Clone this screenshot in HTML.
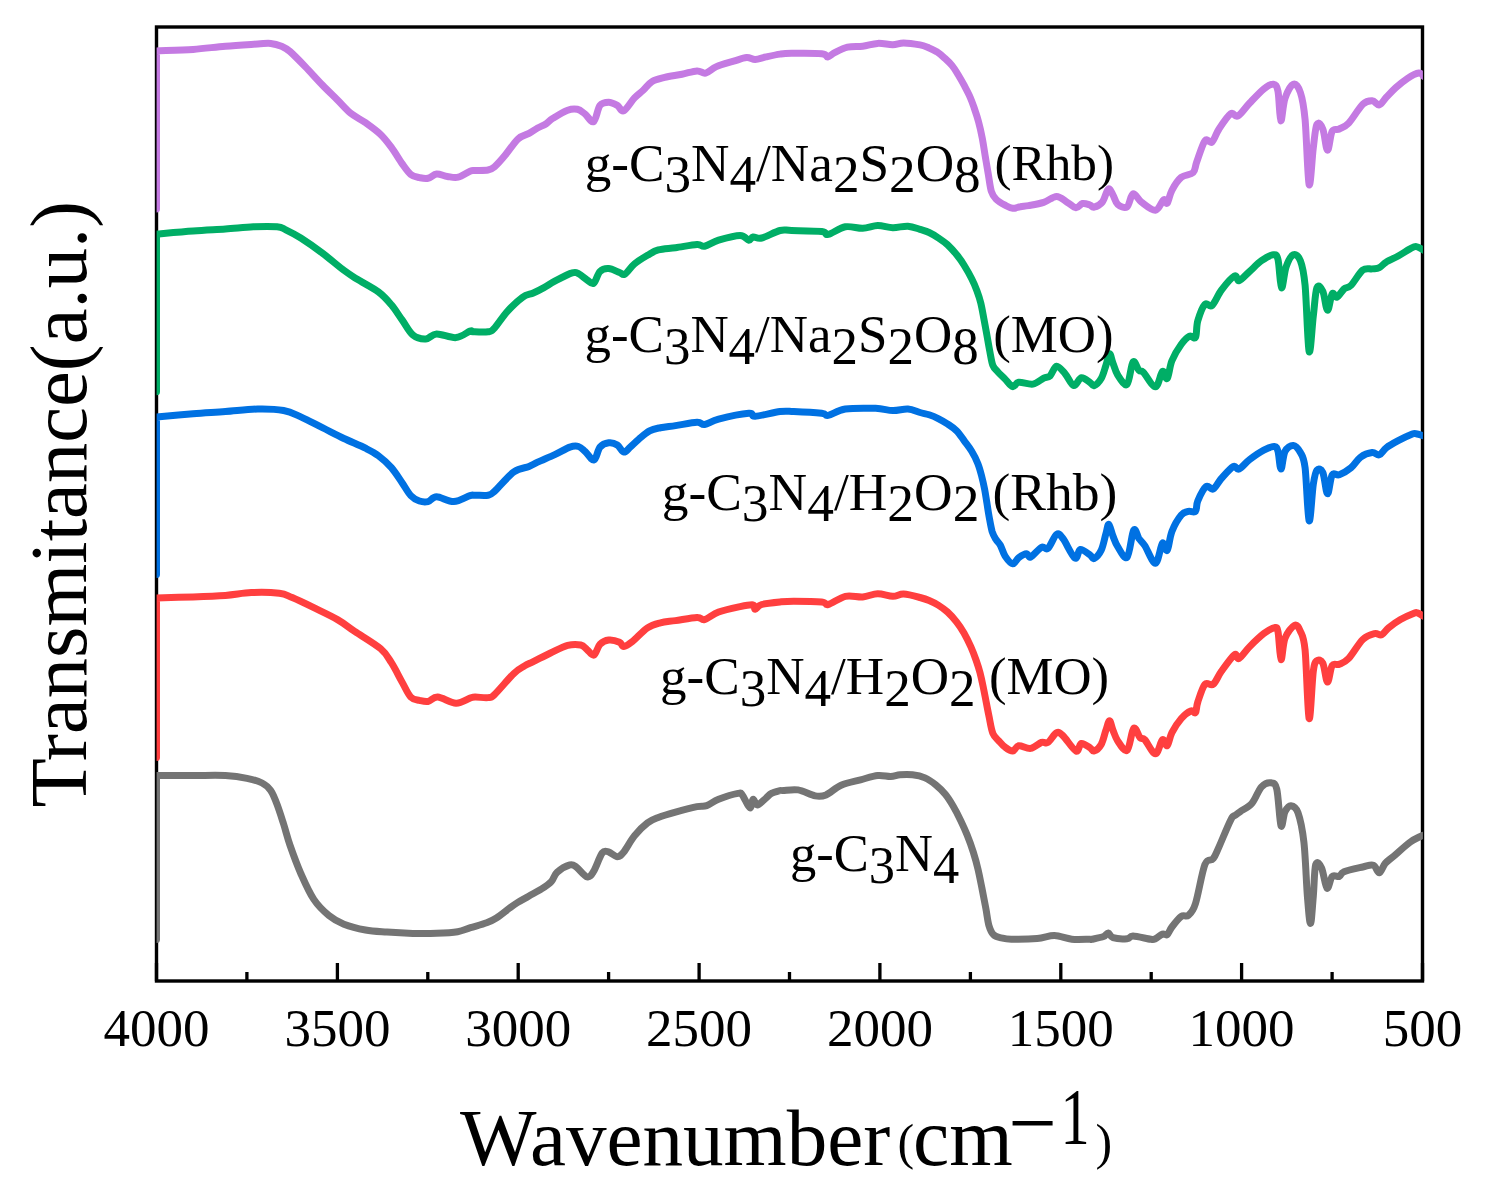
<!DOCTYPE html>
<html><head><meta charset="utf-8"><style>
html,body{margin:0;padding:0;background:#fff;width:1485px;height:1185px;overflow:hidden}
svg{display:block}
text{font-family:"Liberation Serif",serif;fill:#000}
</style></head><body>
<svg width="1485" height="1185" viewBox="0 0 1485 1185">
<rect width="1485" height="1185" fill="#fff"/>
<rect x="156.5" y="27" width="1266" height="954" fill="none" stroke="#000" stroke-width="3.4"/>
<defs><clipPath id="pc"><rect x="156.6" y="0" width="1266.3" height="1185"/></clipPath></defs>
<g clip-path="url(#pc)">
<path d="M156.5,939.6 L156.5,775.5 C162.6,775.5 181.6,775.5 193.1,775.5 C204.6,775.5 216.4,775.0 225.4,775.5 C234.4,776.0 240.9,777.0 247.0,778.3 C253.1,779.5 258.2,781.0 262.1,783.0 C266.1,785.0 268.2,787.0 270.7,790.6 C273.2,794.2 275.0,799.0 277.1,804.6 C279.2,810.2 281.4,817.2 283.6,824.0 C285.8,830.8 287.2,837.2 290.1,845.5 C293.0,853.8 296.9,864.5 300.8,873.5 C304.8,882.5 309.1,892.4 313.8,899.4 C318.5,906.4 323.9,911.4 328.9,915.5 C333.9,919.6 337.8,921.8 343.9,924.2 C350.0,926.6 358.3,928.7 365.5,930.0 C372.7,931.3 379.1,931.5 387.0,932.1 C394.9,932.7 404.6,933.2 412.9,933.4 C421.2,933.6 429.2,933.6 436.6,933.3 C444.1,933.0 452.0,932.6 457.6,931.7 C463.2,930.8 465.6,929.2 470.5,927.7 C475.4,926.2 482.4,924.4 486.7,922.8 C491.0,921.2 492.6,920.4 496.4,918.0 C500.2,915.6 505.8,910.9 509.3,908.3 C512.8,905.7 514.2,904.6 517.4,902.6 C520.6,900.6 524.7,898.5 528.7,896.2 C532.7,893.9 537.8,891.3 541.6,888.9 C545.4,886.5 548.7,884.4 551.3,881.6 C553.9,878.9 553.9,875.2 557.0,872.4 C560.1,869.6 566.7,865.8 569.9,864.9 C573.1,864.0 573.5,865.1 576.4,867.1 C579.3,869.1 584.2,876.1 587.1,876.8 C590.0,877.5 591.1,875.4 593.6,871.4 C596.1,867.4 599.7,856.2 602.2,853.0 C604.7,849.8 606.2,851.4 608.7,852.0 C611.2,852.6 614.8,856.7 617.3,856.7 C619.8,856.7 620.9,855.5 623.8,852.0 C626.7,848.5 630.5,840.6 634.5,835.8 C638.5,830.9 643.5,825.9 647.5,822.9 C651.5,819.9 653.6,819.3 658.3,817.5 C663.0,815.7 669.0,813.9 675.5,812.1 C682.0,810.3 691.8,807.8 697.0,806.7 C702.2,805.6 703.1,806.9 706.7,805.6 C710.3,804.4 713.4,801.2 718.6,799.2 C723.8,797.2 734.0,794.1 738.0,793.4 C742.0,792.7 740.3,792.5 742.3,794.9 C744.3,797.3 748.0,807.1 749.8,807.8 C751.6,808.5 751.8,799.7 753.1,799.2 C754.4,798.7 755.2,805.2 757.4,805.0 C759.5,804.8 763.7,800.0 766.0,798.1 C768.3,796.2 769.1,794.6 771.4,793.4 C773.7,792.1 778.1,791.1 780.0,790.6 C781.9,790.1 779.9,790.7 782.9,790.6 C785.9,790.5 792.6,789.0 798.0,789.9 C803.4,790.8 810.6,795.1 815.3,795.9 C820.0,796.7 821.7,796.7 826.0,794.9 C830.3,793.1 835.4,787.7 841.1,785.2 C846.9,782.7 854.4,781.4 860.5,779.8 C866.6,778.2 872.7,776.0 877.7,775.5 C882.7,775.0 887.0,776.6 890.7,776.5 C894.4,776.4 896.4,775.1 900.0,774.8 C903.6,774.5 908.3,774.3 912.5,774.8 C916.7,775.3 921.1,776.2 925.0,777.9 C928.9,779.6 932.5,782.3 935.9,785.0 C939.3,787.7 942.4,790.8 945.3,794.3 C948.2,797.8 950.5,801.6 953.1,806.0 C955.7,810.4 958.6,816.1 960.9,820.9 C963.2,825.7 965.0,829.7 967.1,834.9 C969.2,840.1 971.5,846.4 973.3,852.1 C975.1,857.8 976.6,863.2 978.0,869.2 C979.4,875.2 980.6,881.5 981.9,888.0 C983.2,894.5 984.6,902.0 985.8,908.2 C987.0,914.4 987.6,921.0 988.9,925.4 C990.2,929.8 991.5,932.7 993.6,934.8 C995.7,936.9 998.5,937.2 1001.4,937.9 C1004.3,938.6 1005.3,939.1 1011.3,939.2 C1017.3,939.3 1030.0,939.2 1037.2,938.6 C1044.4,938.0 1048.7,935.5 1054.4,935.6 C1060.2,935.7 1065.8,938.6 1071.7,939.2 C1077.6,939.8 1086.7,939.2 1090.0,939.2 C1093.3,939.2 1089.5,939.8 1091.8,939.3 C1094.1,938.8 1100.8,937.5 1103.6,936.5 C1106.3,935.5 1106.7,932.8 1108.3,933.0 C1109.9,933.2 1109.9,936.7 1113.0,937.7 C1116.1,938.7 1123.8,939.1 1127.1,938.8 C1130.4,938.5 1129.1,935.9 1133.0,936.0 C1136.9,936.1 1147.0,938.8 1150.7,939.3 C1154.4,939.8 1153.4,939.7 1155.4,938.8 C1157.4,937.9 1160.5,934.8 1162.5,934.1 C1164.5,933.4 1165.6,935.8 1167.2,934.6 C1168.8,933.4 1169.6,930.0 1171.9,927.0 C1174.2,924.0 1178.5,918.4 1181.3,916.4 C1184.0,914.4 1186.0,917.4 1188.4,915.3 C1190.8,913.1 1192.8,912.0 1195.5,903.5 C1198.2,895.0 1202.0,872.1 1204.9,864.6 C1207.9,857.1 1210.9,861.7 1213.2,858.7 C1215.5,855.8 1216.1,853.4 1219.0,846.9 C1221.9,840.4 1228.0,825.1 1230.8,819.8 C1233.5,814.5 1233.9,816.5 1235.5,815.1 C1237.1,813.7 1237.5,813.6 1240.3,811.6 C1243.0,809.6 1248.5,807.4 1252.0,803.3 C1255.5,799.2 1258.3,790.2 1261.5,786.8 C1264.7,783.4 1268.4,782.4 1270.9,782.8 C1273.5,783.2 1275.1,782.1 1276.8,789.2 C1278.5,796.4 1279.6,822.0 1281.0,825.7 C1282.4,829.4 1283.3,814.9 1285.0,811.6 C1286.7,808.3 1288.7,805.5 1290.9,805.7 C1293.1,805.9 1295.8,806.6 1298.0,812.7 C1300.2,818.8 1302.3,828.2 1303.9,842.2 C1305.5,856.2 1306.3,882.9 1307.4,896.4 C1308.5,909.9 1309.5,923.5 1310.5,923.5 C1311.5,923.5 1312.4,906.2 1313.3,896.4 C1314.2,886.6 1314.3,869.3 1315.7,864.6 C1317.1,859.9 1319.7,864.2 1321.6,868.1 C1323.5,872.0 1325.2,886.8 1327.0,888.2 C1328.8,889.6 1330.2,878.4 1332.2,876.4 C1334.2,874.4 1337.3,877.2 1339.3,876.4 C1341.3,875.6 1340.1,873.3 1344.0,871.7 C1347.9,870.1 1357.9,868.1 1362.8,867.0 C1367.7,865.9 1370.7,864.3 1373.4,865.3 C1376.2,866.3 1377.3,873.1 1379.3,872.8 C1381.3,872.5 1382.8,866.1 1385.2,863.4 C1387.6,860.6 1389.4,859.8 1393.5,856.3 C1397.6,852.8 1405.5,845.5 1410.0,842.2 C1414.5,838.9 1418.3,837.5 1420.6,836.3 C1422.9,835.1 1423.4,835.2 1424.0,835.0" stroke="#747474" stroke-width="7.0" fill="none" stroke-linejoin="round" stroke-linecap="round"/>
<path d="M156.5,757.4 L156.5,598.0 C162.6,597.8 181.6,597.3 193.1,596.9 C204.6,596.5 215.7,596.1 225.4,595.4 C235.1,594.7 242.3,593.0 251.3,592.6 C260.3,592.2 272.5,592.5 279.3,593.3 C286.1,594.1 286.4,595.2 292.2,597.6 C297.9,600.0 306.2,604.0 313.8,607.7 C321.4,611.4 330.7,615.7 337.5,619.6 C344.3,623.5 347.5,626.5 354.7,631.4 C361.9,636.2 374.5,643.5 380.6,648.7 C386.7,653.9 387.8,657.1 391.4,662.7 C395.0,668.3 398.9,676.4 402.1,682.1 C405.3,687.8 407.9,694.1 410.8,697.1 C413.7,700.1 416.5,699.7 419.4,700.4 C422.3,701.1 424.9,702.0 428.0,701.5 C431.1,701.0 433.0,696.8 437.7,697.1 C442.4,697.4 450.6,703.0 456.0,703.2 C461.4,703.4 466.8,699.2 470.0,698.2 C473.2,697.2 472.1,697.2 475.1,697.1 C478.1,697.0 484.8,698.0 488.0,697.6 C491.2,697.2 490.2,698.6 494.5,694.6 C498.8,690.6 508.9,678.2 513.9,673.4 C518.9,668.6 521.4,667.9 524.6,665.9 C527.8,663.9 529.0,663.8 533.3,661.6 C537.6,659.5 544.8,655.7 550.5,653.0 C556.2,650.3 562.7,646.7 567.7,645.4 C572.7,644.1 577.5,644.3 580.7,645.0 C583.9,645.7 584.9,648.0 587.1,649.7 C589.3,651.4 591.9,656.0 594.0,655.1 C596.1,654.2 597.5,646.8 600.0,644.3 C602.5,641.8 605.5,640.4 608.7,640.0 C612.0,639.6 617.0,641.1 619.5,642.2 C622.0,643.3 621.6,646.6 623.8,646.5 C625.9,646.4 628.4,644.6 632.4,641.5 C636.4,638.4 642.8,630.9 647.5,627.8 C652.2,624.7 655.7,624.0 660.4,622.8 C665.1,621.6 669.4,621.5 675.5,620.6 C681.6,619.7 692.1,617.6 697.0,617.4 C701.9,617.2 701.0,620.5 704.6,619.6 C708.2,618.7 712.7,614.2 718.6,612.0 C724.5,609.8 734.4,607.8 740.1,606.6 C745.9,605.4 750.6,604.5 753.1,604.9 C755.6,605.3 753.8,609.3 755.2,609.2 C756.6,609.1 757.6,605.7 761.7,604.5 C765.8,603.3 774.7,602.4 780.0,601.9 C785.3,601.4 786.8,601.2 793.7,601.2 C800.7,601.2 816.0,601.4 821.7,601.9 C827.5,602.4 824.2,605.4 828.2,604.5 C832.2,603.6 839.6,597.6 845.4,596.3 C851.1,595.0 857.3,597.3 862.7,596.9 C868.1,596.5 872.7,593.8 877.7,593.7 C882.7,593.6 888.5,596.2 892.8,596.3 C897.1,596.4 899.1,593.9 903.6,594.1 C908.1,594.3 915.8,596.4 920.0,597.5 C924.2,598.6 926.1,599.2 929.1,600.5 C932.1,601.8 935.2,603.2 938.2,605.1 C941.2,607.0 944.4,609.1 947.4,611.9 C950.4,614.7 953.7,618.2 956.5,621.8 C959.3,625.3 961.7,629.0 964.1,633.2 C966.5,637.4 968.9,642.4 970.9,646.9 C972.9,651.4 974.7,656.2 976.2,660.5 C977.7,664.8 978.9,668.4 980.0,672.7 C981.1,677.0 982.1,681.6 983.1,686.4 C984.1,691.2 985.1,696.5 986.1,701.6 C987.1,706.7 988.0,711.5 989.1,716.8 C990.2,722.1 991.2,729.5 992.9,733.5 C994.5,737.5 997.0,738.8 999.0,741.1 C1001.0,743.4 1002.8,745.6 1005.1,747.2 C1007.4,748.9 1010.4,751.2 1012.7,751.0 C1015.0,750.8 1015.8,746.1 1018.8,745.7 C1021.8,745.3 1026.9,749.0 1030.7,748.4 C1034.5,747.8 1038.6,743.4 1041.5,742.4 C1044.4,741.4 1045.5,744.0 1048.0,742.4 C1050.5,740.8 1054.1,733.8 1056.6,732.7 C1059.1,731.6 1059.9,732.9 1063.1,735.9 C1066.3,738.9 1073.0,749.7 1076.0,751.0 C1079.0,752.3 1079.1,744.0 1081.4,743.5 C1083.7,743.0 1087.9,746.5 1090.0,747.8 C1092.1,749.0 1092.2,751.6 1094.1,751.0 C1096.0,750.4 1099.2,747.9 1101.2,744.4 C1103.2,740.9 1104.5,734.2 1105.9,730.3 C1107.3,726.4 1108.3,720.8 1109.5,720.8 C1110.7,720.8 1111.6,726.9 1113.0,730.3 C1114.4,733.6 1115.4,737.6 1117.7,740.9 C1120.0,744.2 1124.4,752.4 1127.1,750.3 C1129.8,748.2 1131.5,730.5 1133.7,728.4 C1135.9,726.3 1138.2,735.9 1140.1,737.8 C1141.9,739.7 1142.2,737.0 1144.8,739.7 C1147.3,742.4 1152.5,753.8 1155.4,753.8 C1158.4,753.8 1160.5,741.1 1162.5,739.7 C1164.5,738.3 1165.6,746.8 1167.2,745.6 C1168.8,744.4 1169.6,737.1 1171.9,732.6 C1174.2,728.1 1178.2,722.1 1181.3,718.5 C1184.4,714.9 1188.4,711.9 1190.8,710.9 C1193.2,709.9 1194.3,714.1 1195.5,712.6 C1196.7,711.1 1196.2,706.7 1197.8,702.0 C1199.4,697.3 1202.3,687.2 1204.9,684.3 C1207.5,681.3 1210.5,686.5 1213.2,684.3 C1216.0,682.1 1217.9,676.2 1221.4,671.3 C1224.9,666.4 1231.5,656.9 1234.4,654.8 C1237.4,652.6 1236.5,659.8 1239.1,658.4 C1241.6,657.0 1245.6,650.7 1249.7,646.6 C1253.8,642.5 1259.7,636.8 1263.8,633.6 C1267.9,630.5 1272.0,628.0 1274.4,627.7 C1276.8,627.4 1276.9,626.4 1278.0,631.7 C1279.1,637.0 1279.8,658.5 1281.0,659.6 C1282.2,660.7 1282.8,644.0 1285.0,638.3 C1287.2,632.6 1291.9,626.6 1294.5,625.4 C1297.1,624.2 1298.6,627.2 1300.4,631.3 C1302.2,635.4 1303.6,635.6 1305.1,650.1 C1306.5,664.6 1307.7,715.0 1309.1,718.5 C1310.5,722.0 1312.0,680.9 1313.3,671.3 C1314.6,661.7 1315.3,662.1 1316.9,660.7 C1318.5,659.3 1321.0,659.6 1322.8,663.1 C1324.6,666.6 1325.9,681.6 1327.5,682.0 C1329.1,682.4 1330.2,668.5 1332.2,665.5 C1334.2,662.5 1336.5,665.5 1339.3,664.3 C1342.0,663.1 1344.8,662.5 1348.7,658.4 C1352.6,654.3 1358.5,643.6 1362.8,639.5 C1367.1,635.4 1371.4,634.4 1374.6,633.6 C1377.8,632.8 1379.3,635.8 1381.7,634.8 C1384.1,633.8 1385.6,630.2 1388.7,627.7 C1391.8,625.2 1396.3,621.9 1400.5,619.5 C1404.7,617.1 1411.2,614.3 1414.0,613.2 C1416.8,612.1 1415.8,612.4 1417.5,612.9 C1419.2,613.4 1422.9,615.9 1424.0,616.5" stroke="#FF3F3F" stroke-width="7.0" fill="none" stroke-linejoin="round" stroke-linecap="round"/>
<path d="M156.5,574.6 L156.5,416.9 C162.6,416.4 181.6,414.6 193.1,413.7 C204.6,412.8 214.6,412.3 225.4,411.5 C236.2,410.7 248.0,409.2 257.7,409.0 C267.4,408.8 276.4,409.2 283.6,410.5 C290.8,411.8 294.3,414.0 300.8,416.9 C307.3,419.8 315.2,424.1 322.4,427.7 C329.6,431.3 336.7,435.1 343.9,438.5 C351.1,441.9 359.8,445.3 365.5,448.2 C371.2,451.1 374.1,452.5 378.4,455.7 C382.7,458.9 387.4,463.1 391.4,467.6 C395.3,472.1 398.9,478.0 402.1,482.7 C405.3,487.4 407.9,492.6 410.8,495.6 C413.7,498.7 416.5,500.0 419.4,501.0 C422.3,502.0 425.1,502.3 428.0,501.6 C430.9,500.9 432.3,496.7 436.6,496.7 C440.9,496.7 448.2,501.8 453.8,501.6 C459.4,501.4 466.4,496.7 470.0,495.6 C473.6,494.5 472.1,495.3 475.1,495.2 C478.1,495.1 484.8,495.8 488.0,495.2 C491.2,494.6 490.2,495.2 494.5,491.3 C498.8,487.4 508.1,476.0 513.9,471.9 C519.6,467.8 525.0,468.1 529.0,466.5 C533.0,464.9 533.3,464.2 537.6,462.2 C541.9,460.2 549.4,457.1 554.8,454.6 C560.2,452.1 565.9,448.5 569.9,447.1 C573.9,445.8 576.0,445.8 578.5,446.5 C581.0,447.2 582.4,449.1 585.0,451.4 C587.6,453.6 591.5,460.7 594.0,460.0 C596.5,459.3 597.5,450.0 600.0,447.1 C602.5,444.2 605.8,443.2 608.7,442.8 C611.6,442.4 614.8,443.4 617.3,445.0 C619.8,446.6 621.6,451.8 623.8,452.1 C625.9,452.5 627.7,449.3 630.2,447.1 C632.7,444.9 635.7,441.8 638.9,439.1 C642.1,436.4 646.0,432.8 649.6,430.9 C653.2,429.0 656.1,428.6 660.4,427.7 C664.7,426.8 669.4,426.5 675.5,425.6 C681.6,424.7 692.1,422.5 697.0,422.3 C701.9,422.1 701.0,425.0 704.6,424.5 C708.2,424.0 711.2,421.0 718.6,419.1 C726.0,417.2 742.7,413.8 748.8,413.3 C754.9,412.8 750.0,416.6 755.2,416.3 C760.4,416.0 773.6,412.3 780.0,411.5 C786.4,410.7 786.8,411.2 793.7,411.5 C800.7,411.8 816.0,412.7 821.7,413.3 C827.5,413.9 824.2,416.1 828.2,415.4 C832.2,414.7 837.5,410.2 845.4,409.0 C853.3,407.8 867.7,408.1 875.6,408.3 C883.5,408.6 887.4,410.4 892.8,410.5 C898.2,410.6 903.4,408.7 907.9,409.0 C912.4,409.3 916.5,411.5 920.0,412.5 C923.5,413.5 926.1,413.8 929.1,414.8 C932.1,415.8 935.2,417.1 938.2,418.6 C941.2,420.1 944.4,421.9 947.4,423.9 C950.4,425.9 953.7,427.9 956.5,430.7 C959.3,433.5 961.6,437.2 964.1,440.6 C966.6,444.0 969.4,447.4 971.7,451.2 C974.0,455.0 976.2,459.3 977.8,463.4 C979.4,467.4 980.4,471.2 981.5,475.5 C982.6,479.8 983.7,484.6 984.6,489.2 C985.5,493.8 986.1,498.3 986.9,502.9 C987.6,507.5 988.2,511.8 989.1,516.6 C990.0,521.4 991.1,528.0 992.2,531.8 C993.4,535.6 994.6,537.1 996.0,539.4 C997.4,541.7 999.0,542.7 1000.5,545.5 C1002.0,548.3 1003.1,553.1 1005.1,556.1 C1007.1,559.1 1010.4,563.5 1012.7,563.7 C1015.0,564.0 1016.5,559.2 1018.8,557.6 C1021.1,556.0 1024.4,553.9 1026.4,553.8 C1028.4,553.7 1028.2,558.1 1030.7,557.0 C1033.2,555.9 1038.6,548.7 1041.5,547.3 C1044.4,545.9 1045.5,550.5 1048.0,548.4 C1050.5,546.2 1054.1,536.0 1056.6,534.4 C1059.1,532.8 1060.0,534.8 1063.1,538.7 C1066.1,542.7 1072.0,556.3 1074.9,558.1 C1077.8,559.9 1077.8,550.0 1080.3,549.5 C1082.8,549.0 1087.7,553.4 1090.0,554.9 C1092.3,556.4 1092.2,559.3 1094.1,558.5 C1096.0,557.7 1099.2,554.4 1101.2,550.3 C1103.2,546.2 1104.6,538.1 1105.9,533.8 C1107.2,529.5 1107.6,523.9 1108.8,524.3 C1110.0,524.7 1111.5,532.4 1113.0,536.1 C1114.5,539.8 1115.4,543.2 1117.7,546.7 C1120.0,550.2 1124.4,560.0 1127.1,557.3 C1129.8,554.5 1131.7,533.3 1133.7,530.2 C1135.7,527.1 1137.1,535.9 1138.9,538.5 C1140.8,541.1 1142.0,541.5 1144.8,545.6 C1147.5,549.7 1152.5,563.6 1155.4,563.2 C1158.4,562.8 1160.5,545.4 1162.5,543.2 C1164.5,541.1 1165.6,552.3 1167.2,550.3 C1168.8,548.3 1169.6,537.3 1171.9,531.4 C1174.2,525.5 1178.5,518.2 1181.3,514.9 C1184.0,511.6 1186.0,512.0 1188.4,511.4 C1190.8,510.8 1193.9,513.2 1195.5,511.4 C1197.1,509.6 1196.0,504.9 1197.8,500.8 C1199.6,496.7 1203.5,488.6 1206.1,486.6 C1208.7,484.6 1210.7,490.4 1213.2,489.0 C1215.8,487.6 1218.1,482.1 1221.4,478.4 C1224.7,474.7 1230.2,468.2 1233.2,466.6 C1236.2,465.0 1236.3,470.2 1239.1,469.0 C1241.8,467.8 1245.6,462.6 1249.7,459.5 C1253.8,456.4 1259.7,452.2 1263.8,450.1 C1267.9,448.0 1272.0,446.4 1274.4,446.6 C1276.8,446.8 1276.9,447.6 1278.0,451.3 C1279.1,455.0 1279.8,469.0 1281.0,469.0 C1282.2,469.0 1283.0,455.2 1285.0,451.3 C1287.0,447.4 1290.7,445.2 1293.3,445.4 C1295.9,445.6 1298.4,448.8 1300.4,452.5 C1302.4,456.2 1303.6,456.4 1305.1,467.8 C1306.5,479.2 1307.7,518.0 1309.1,520.8 C1310.5,523.5 1312.0,492.8 1313.3,484.3 C1314.6,475.9 1315.3,472.1 1316.9,470.1 C1318.5,468.1 1321.0,468.6 1322.8,472.5 C1324.6,476.4 1325.9,493.3 1327.5,493.7 C1329.1,494.1 1330.2,477.9 1332.2,474.8 C1334.2,471.7 1336.2,476.0 1339.3,474.8 C1342.4,473.6 1347.5,470.7 1351.0,467.8 C1354.5,464.9 1357.0,459.8 1360.5,457.2 C1364.0,454.6 1369.1,452.9 1372.2,452.5 C1375.3,452.1 1376.9,455.6 1379.3,454.8 C1381.7,454.0 1383.2,450.1 1386.4,447.7 C1389.6,445.3 1393.9,443.0 1398.2,440.7 C1402.5,438.4 1409.3,435.2 1412.3,434.0 C1415.3,432.8 1414.0,433.4 1416.0,433.7 C1418.0,434.0 1422.7,435.6 1424.0,436.0" stroke="#0071E2" stroke-width="7.0" fill="none" stroke-linejoin="round" stroke-linecap="round"/>
<path d="M156.5,391.8 L156.5,234.1 C162.6,233.6 181.6,231.9 193.1,231.1 C204.6,230.2 215.3,229.7 225.4,229.0 C235.5,228.3 244.8,227.2 253.4,226.8 C262.0,226.4 271.7,226.3 277.1,226.8 C282.5,227.3 281.9,227.9 285.8,229.8 C289.8,231.7 294.7,234.1 300.8,238.0 C306.9,241.9 315.2,247.7 322.4,253.1 C329.6,258.5 338.1,266.0 343.9,270.3 C349.6,274.6 351.1,275.4 356.9,279.0 C362.6,282.6 372.6,287.6 378.4,291.9 C384.1,296.2 387.4,300.1 391.4,304.8 C395.3,309.5 398.5,314.9 402.1,319.9 C405.7,324.9 408.9,331.8 412.9,335.0 C416.8,338.2 421.9,339.1 425.8,338.9 C429.8,338.7 431.6,334.1 436.6,333.9 C441.6,333.7 450.4,338.1 456.0,337.6 C461.6,337.1 467.2,332.1 470.0,331.1 C472.8,330.1 469.9,331.7 472.9,331.8 C475.9,331.9 484.4,332.4 488.0,331.8 C491.6,331.2 491.3,331.5 494.5,328.1 C497.7,324.7 502.7,316.4 507.4,311.3 C512.1,306.2 518.2,300.4 522.5,297.3 C526.8,294.2 529.7,294.6 533.3,293.0 C536.9,291.4 540.4,289.6 544.0,287.6 C547.6,285.6 550.1,283.6 554.8,281.1 C559.5,278.7 568.1,274.1 572.1,272.9 C576.1,271.6 576.0,272.4 578.5,273.6 C581.0,274.8 584.6,278.4 587.1,280.0 C589.6,281.6 591.5,284.7 593.6,283.3 C595.8,281.9 597.5,273.8 600.0,271.4 C602.5,268.9 605.5,268.4 608.7,268.6 C612.0,268.8 616.8,271.6 619.5,272.5 C622.2,273.4 622.3,275.6 624.8,274.2 C627.3,272.8 630.7,267.0 634.5,263.9 C638.3,260.8 643.5,257.6 647.5,255.3 C651.5,253.0 653.6,251.2 658.3,249.9 C663.0,248.6 669.0,248.6 675.5,247.7 C682.0,246.8 692.1,244.8 697.0,244.5 C701.9,244.2 701.0,246.9 704.6,246.2 C708.2,245.5 712.7,242.0 718.6,240.2 C724.5,238.4 735.1,235.4 740.1,235.4 C745.1,235.4 746.6,239.9 748.8,240.2 C751.0,240.4 751.0,237.3 753.1,236.9 C755.2,236.5 757.2,239.1 761.7,238.0 C766.2,236.9 775.0,231.8 780.0,230.5 C785.0,229.2 784.5,230.3 791.5,230.5 C798.5,230.7 815.6,230.8 821.7,231.5 C827.8,232.2 824.2,235.2 828.2,234.4 C832.2,233.6 839.6,227.8 845.4,226.8 C851.1,225.8 857.3,228.5 862.7,228.3 C868.1,228.1 872.7,225.6 877.7,225.5 C882.7,225.4 887.8,227.6 892.8,227.7 C897.8,227.8 903.4,225.9 907.9,226.2 C912.4,226.5 916.5,228.3 920.0,229.4 C923.5,230.5 926.1,231.1 929.1,232.5 C932.1,233.9 935.2,235.8 938.2,237.8 C941.2,239.8 944.4,241.8 947.4,244.6 C950.4,247.4 953.7,251.1 956.5,254.5 C959.3,257.9 961.6,261.1 964.1,265.2 C966.6,269.2 969.6,274.5 971.7,278.8 C973.9,283.1 975.5,286.9 977.0,291.0 C978.5,295.1 979.7,298.6 980.8,303.1 C981.9,307.7 982.8,313.0 983.8,318.3 C984.8,323.6 985.9,329.5 986.9,335.1 C987.9,340.7 988.9,346.7 989.9,351.8 C990.9,356.9 991.6,362.2 992.9,365.5 C994.2,368.8 995.5,369.2 997.5,371.5 C999.5,373.8 1002.6,376.6 1005.1,379.1 C1007.6,381.6 1010.4,386.2 1012.7,386.7 C1015.0,387.2 1015.4,382.6 1018.8,382.2 C1022.2,381.8 1028.8,384.8 1032.9,384.1 C1037.1,383.4 1040.8,379.5 1043.7,378.1 C1046.6,376.7 1047.9,377.9 1050.1,375.9 C1052.2,373.9 1054.1,366.5 1056.6,366.2 C1059.1,365.9 1062.3,370.6 1065.2,373.8 C1068.1,377.0 1071.1,385.0 1073.8,385.6 C1076.5,386.2 1078.7,378.2 1081.4,377.7 C1084.1,377.2 1087.9,381.1 1090.0,382.4 C1092.1,383.7 1092.2,386.2 1094.1,385.6 C1096.0,385.0 1099.2,381.9 1101.2,378.5 C1103.2,375.1 1104.5,369.6 1105.9,365.5 C1107.3,361.4 1108.3,354.2 1109.5,353.8 C1110.7,353.4 1111.6,359.7 1113.0,363.2 C1114.4,366.7 1115.4,371.5 1117.7,375.0 C1120.0,378.5 1124.5,386.6 1127.1,384.4 C1129.6,382.2 1131.0,364.4 1133.0,362.0 C1135.0,359.6 1137.1,368.5 1138.9,370.3 C1140.7,372.1 1140.8,369.9 1143.6,372.6 C1146.3,375.4 1152.2,387.0 1155.4,386.8 C1158.6,386.6 1160.5,372.8 1162.5,371.4 C1164.5,370.0 1165.6,380.3 1167.2,378.5 C1168.8,376.7 1169.6,366.5 1171.9,360.8 C1174.2,355.1 1178.3,348.4 1181.3,344.3 C1184.2,340.2 1187.2,337.3 1189.6,336.1 C1192.0,334.9 1194.1,339.9 1195.5,337.3 C1196.9,334.8 1196.2,326.3 1197.8,320.8 C1199.4,315.3 1202.5,306.9 1204.9,304.3 C1207.3,301.8 1209.2,307.9 1212.0,305.5 C1214.8,303.1 1217.7,295.0 1221.4,290.1 C1225.1,285.2 1231.5,277.6 1234.4,276.0 C1237.4,274.4 1236.5,281.5 1239.1,280.7 C1241.6,279.9 1246.0,274.6 1249.7,271.3 C1253.4,268.0 1257.6,263.4 1261.5,260.7 C1265.4,257.9 1270.5,255.0 1273.3,254.8 C1276.0,254.6 1276.6,254.0 1278.0,259.5 C1279.4,265.0 1280.1,286.6 1281.5,287.8 C1282.9,289.0 1284.2,272.1 1286.2,266.6 C1288.2,261.1 1290.9,255.8 1293.3,254.8 C1295.7,253.8 1298.4,255.6 1300.4,260.7 C1302.4,265.8 1303.6,270.3 1305.1,285.4 C1306.5,300.5 1307.7,346.3 1309.1,351.4 C1310.5,356.5 1312.0,326.7 1313.3,316.1 C1314.6,305.5 1315.3,291.9 1316.9,287.8 C1318.5,283.7 1321.0,287.6 1322.8,291.3 C1324.6,295.0 1325.9,309.8 1327.5,310.2 C1329.1,310.6 1330.6,295.9 1332.2,293.7 C1333.8,291.5 1334.9,298.0 1336.9,297.2 C1338.9,296.4 1341.7,291.0 1344.0,289.0 C1346.3,287.0 1347.9,288.5 1351.0,285.4 C1354.1,282.2 1359.3,272.9 1362.8,270.1 C1366.3,267.4 1369.5,269.3 1372.2,268.9 C1375.0,268.5 1376.9,268.9 1379.3,267.7 C1381.7,266.5 1383.2,263.8 1386.4,261.9 C1389.6,259.9 1394.3,258.2 1398.2,256.0 C1402.1,253.8 1407.0,250.5 1410.0,248.9 C1413.0,247.3 1414.1,246.3 1416.4,246.6 C1418.7,246.9 1422.7,249.8 1424.0,250.5" stroke="#00AE66" stroke-width="7.0" fill="none" stroke-linejoin="round" stroke-linecap="round"/>
<path d="M156.5,208.9 L156.5,50.9 C162.6,50.6 181.6,50.2 193.1,49.4 C204.6,48.6 214.6,47.1 225.4,46.2 C236.2,45.3 250.1,44.5 257.7,44.0 C265.2,43.5 266.7,43.0 270.7,43.4 C274.7,43.8 278.3,44.9 281.5,46.2 C284.7,47.6 286.1,48.1 290.0,51.5 C293.9,54.9 299.8,61.0 305.2,66.6 C310.6,72.2 317.0,79.4 322.4,85.0 C327.8,90.6 332.8,95.3 337.5,100.0 C342.2,104.7 345.7,109.2 350.4,113.0 C355.1,116.8 360.5,119.1 365.5,122.7 C370.5,126.3 376.3,130.4 380.6,134.5 C384.9,138.6 387.8,142.6 391.4,147.4 C395.0,152.2 398.9,159.1 402.1,163.6 C405.3,168.1 407.9,172.1 410.8,174.4 C413.7,176.7 416.5,176.9 419.4,177.6 C422.3,178.2 425.1,178.9 428.0,178.3 C430.9,177.7 433.4,174.3 436.6,174.0 C439.8,173.7 443.8,176.0 447.4,176.5 C451.0,177.0 454.4,178.1 458.2,177.2 C462.0,176.3 467.2,172.3 470.0,171.2 C472.8,170.1 472.1,170.7 475.1,170.5 C478.1,170.3 484.8,170.6 488.0,170.0 C491.2,169.4 491.6,169.3 494.5,166.8 C497.4,164.3 501.4,159.7 505.3,155.0 C509.2,150.3 514.2,142.4 518.2,138.8 C522.2,135.2 525.8,135.2 529.0,133.4 C532.2,131.6 534.7,129.6 537.6,128.0 C540.5,126.4 543.7,125.3 546.2,123.7 C548.7,122.1 549.1,120.7 552.7,118.4 C556.3,116.2 563.6,111.7 567.7,110.2 C571.8,108.7 574.5,108.7 577.4,109.3 C580.3,109.9 582.3,112.0 585.0,114.0 C587.7,116.0 591.1,123.0 593.6,121.6 C596.1,120.2 597.5,108.6 600.0,105.4 C602.5,102.2 605.8,102.2 608.7,102.2 C611.6,102.2 614.8,104.0 617.3,105.4 C619.8,106.8 620.9,112.0 623.8,110.8 C626.7,109.5 631.3,101.3 634.5,97.9 C637.7,94.5 640.3,93.0 643.2,90.3 C646.1,87.6 648.2,83.8 651.8,81.7 C655.4,79.6 659.7,78.7 664.7,77.4 C669.7,76.2 676.6,75.3 682.0,74.2 C687.4,73.1 693.0,71.1 697.0,70.9 C701.0,70.7 702.5,73.8 705.7,73.1 C708.9,72.4 711.7,68.6 716.4,66.6 C721.1,64.6 728.7,62.7 733.7,61.2 C738.7,59.7 743.0,57.9 746.6,57.6 C750.2,57.3 752.0,59.6 755.2,59.5 C758.4,59.4 761.9,57.8 766.0,56.9 C770.1,56.0 775.8,54.7 780.0,54.1 C784.2,53.5 784.5,53.4 791.5,53.3 C798.5,53.2 815.7,53.1 821.7,53.7 C827.8,54.3 825.6,57.1 827.8,56.9 C829.9,56.7 831.3,54.2 834.6,52.6 C837.9,51.0 842.9,48.3 847.6,47.2 C852.3,46.1 857.7,46.8 862.7,46.2 C867.7,45.6 872.7,43.6 877.7,43.4 C882.7,43.1 888.5,44.8 892.8,44.7 C897.1,44.6 899.1,42.9 903.6,42.9 C908.1,42.9 915.8,44.1 920.0,44.9 C924.2,45.7 926.3,46.8 929.1,47.9 C931.9,49.0 934.2,50.1 936.7,51.7 C939.2,53.4 941.8,55.5 944.3,57.8 C946.8,60.1 949.6,62.6 951.9,65.4 C954.2,68.2 956.0,71.2 958.0,74.5 C960.0,77.8 962.1,81.4 964.1,85.2 C966.1,89.0 968.4,93.2 970.2,97.3 C972.0,101.3 973.3,105.5 974.7,109.5 C976.1,113.5 977.2,116.8 978.5,121.6 C979.8,126.4 981.2,132.5 982.3,138.3 C983.4,144.1 984.3,150.5 985.3,156.6 C986.3,162.7 987.4,169.0 988.4,174.8 C989.4,180.6 990.1,187.4 991.4,191.5 C992.7,195.6 993.7,196.8 996.0,199.1 C998.3,201.4 1002.3,203.7 1005.1,205.2 C1007.9,206.7 1010.2,208.1 1012.7,208.3 C1015.2,208.6 1017.6,207.1 1020.3,206.7 C1022.9,206.2 1024.7,206.3 1028.6,205.6 C1032.5,204.9 1039.0,203.9 1043.7,202.4 C1048.4,200.9 1052.6,196.4 1056.6,196.4 C1060.5,196.4 1064.2,200.5 1067.4,202.4 C1070.6,204.3 1073.5,207.6 1076.0,207.8 C1078.5,208.0 1080.2,204.0 1082.5,203.5 C1084.8,203.0 1088.1,204.4 1090.0,205.0 C1091.9,205.6 1092.0,207.7 1094.1,207.2 C1096.2,206.7 1100.0,205.0 1102.4,202.0 C1104.8,199.0 1106.5,190.3 1108.3,189.1 C1110.1,187.9 1111.4,192.4 1113.0,195.0 C1114.6,197.6 1115.4,202.4 1117.7,204.4 C1120.0,206.4 1124.5,208.6 1127.1,206.8 C1129.6,205.0 1130.6,194.6 1133.0,193.8 C1135.4,193.0 1137.6,199.2 1141.3,202.0 C1145.0,204.8 1151.7,210.7 1155.4,210.3 C1159.1,209.9 1161.7,200.9 1163.7,199.7 C1165.7,198.5 1165.8,204.8 1167.2,203.2 C1168.6,201.6 1169.6,194.6 1171.9,190.3 C1174.2,186.0 1177.8,180.2 1181.3,177.3 C1184.8,174.4 1190.5,175.2 1193.1,172.6 C1195.7,170.0 1194.7,167.3 1196.7,162.0 C1198.7,156.7 1202.4,144.1 1204.9,140.8 C1207.5,137.5 1209.7,144.0 1212.0,142.0 C1214.3,140.0 1215.9,133.7 1219.0,129.0 C1222.1,124.3 1227.6,115.9 1230.8,113.7 C1234.0,111.5 1234.8,117.8 1237.9,116.0 C1241.1,114.2 1245.4,107.5 1249.7,103.0 C1254.0,98.5 1259.9,92.0 1263.8,88.9 C1267.7,85.8 1270.9,83.8 1273.3,84.2 C1275.7,84.6 1276.8,85.2 1278.0,91.3 C1279.2,97.4 1279.6,119.5 1280.8,120.7 C1282.0,121.9 1282.9,104.4 1285.0,98.3 C1287.1,92.2 1290.7,85.2 1293.3,84.2 C1295.9,83.2 1298.4,86.6 1300.4,92.5 C1302.4,98.4 1303.6,104.3 1305.1,119.6 C1306.5,134.9 1307.7,179.7 1309.1,184.4 C1310.5,189.1 1312.0,157.8 1313.3,147.8 C1314.6,137.8 1315.3,127.4 1316.9,124.3 C1318.5,121.2 1321.0,124.7 1322.8,129.0 C1324.6,133.3 1325.9,149.8 1327.5,150.2 C1329.1,150.6 1330.2,134.8 1332.2,131.3 C1334.2,127.8 1336.5,130.4 1339.3,129.0 C1342.0,127.6 1344.8,127.2 1348.7,123.1 C1352.6,119.0 1358.9,107.9 1362.8,104.2 C1366.7,100.5 1369.5,100.6 1372.2,100.7 C1375.0,100.8 1376.9,105.5 1379.3,104.9 C1381.7,104.3 1383.7,100.1 1386.4,97.2 C1389.2,94.3 1392.3,90.9 1395.8,87.7 C1399.3,84.5 1403.8,80.8 1407.6,78.3 C1411.4,75.8 1416.0,73.3 1418.7,73.0 C1421.4,72.7 1423.1,75.9 1424.0,76.5" stroke="#C47AE2" stroke-width="7.0" fill="none" stroke-linejoin="round" stroke-linecap="round"/>
</g>
<path d="M156.5,981 L156.5,963 M246.9,981 L246.9,972 M337.4,981 L337.4,963 M427.8,981 L427.8,972 M518.2,981 L518.2,963 M608.6,981 L608.6,972 M699.1,981 L699.1,963 M789.5,981 L789.5,972 M879.9,981 L879.9,963 M970.4,981 L970.4,972 M1060.8,981 L1060.8,963 M1151.2,981 L1151.2,972 M1241.6,981 L1241.6,963 M1332.1,981 L1332.1,972 M1422.5,981 L1422.5,963 " stroke="#000" stroke-width="3.3" fill="none"/>
<text x="156.5" y="1046.3" font-size="53" text-anchor="middle">4000</text>
<text x="337.4" y="1046.3" font-size="53" text-anchor="middle">3500</text>
<text x="518.2" y="1046.3" font-size="53" text-anchor="middle">3000</text>
<text x="699.1" y="1046.3" font-size="53" text-anchor="middle">2500</text>
<text x="879.9" y="1046.3" font-size="53" text-anchor="middle">2000</text>
<text x="1060.8" y="1046.3" font-size="53" text-anchor="middle">1500</text>
<text x="1241.6" y="1046.3" font-size="53" text-anchor="middle">1000</text>
<text x="1422.5" y="1046.3" font-size="53" text-anchor="middle">500</text>
<text x="584.70" y="180.70" font-size="53.20"><tspan>g-C</tspan><tspan dy="11.7">3</tspan><tspan dy="-11.7">N</tspan><tspan dy="11.7">4</tspan><tspan dy="-11.7">/Na</tspan><tspan dy="11.7">2</tspan><tspan dy="-11.7">S</tspan><tspan dy="11.7">2</tspan><tspan dy="-11.7">O</tspan><tspan dy="11.7">8</tspan></text>
<text x="994.40" y="180.20" font-size="51.28">(Rhb)</text>
<text x="584.50" y="352.10" font-size="52.94"><tspan>g-C</tspan><tspan dy="11.7">3</tspan><tspan dy="-11.7">N</tspan><tspan dy="11.7">4</tspan><tspan dy="-11.7">/Na</tspan><tspan dy="11.7">2</tspan><tspan dy="-11.7">S</tspan><tspan dy="11.7">2</tspan><tspan dy="-11.7">O</tspan><tspan dy="11.7">8</tspan></text>
<text x="993.20" y="352.10" font-size="52.86">(MO)</text>
<text x="661.70" y="509.70" font-size="53.45"><tspan>g-C</tspan><tspan dy="11.7">3</tspan><tspan dy="-11.7">N</tspan><tspan dy="11.7">4</tspan><tspan dy="-11.7">/H</tspan><tspan dy="11.7">2</tspan><tspan dy="-11.7">O</tspan><tspan dy="11.7">2</tspan></text>
<text x="992.50" y="509.70" font-size="53.50">(Rhb)</text>
<text x="660.00" y="694.10" font-size="53.09"><tspan>g-C</tspan><tspan dy="11.7">3</tspan><tspan dy="-11.7">N</tspan><tspan dy="11.7">4</tspan><tspan dy="-11.7">/H</tspan><tspan dy="11.7">2</tspan><tspan dy="-11.7">O</tspan><tspan dy="11.7">2</tspan></text>
<text x="988.90" y="694.10" font-size="52.77">(MO)</text>
<text x="789.90" y="870.90" font-size="52.52"><tspan>g-C</tspan><tspan dy="11.7">3</tspan><tspan dy="-11.7">N</tspan><tspan dy="11.7">4</tspan></text>
<text x="459.90" y="1164.60" font-size="81.13">Wavenumber</text>
<text x="897.40" y="1159.20" font-size="50.00">(</text>
<text x="913.00" y="1164.60" font-size="81.68">cm</text>
<text x="1008.50" y="1152.30" font-size="86.00">−</text>
<text transform="translate(1076.00,1144.00) scale(0.72,1)" x="-21.50" y="0" font-size="81.00">1</text>
<text x="1095.40" y="1159.20" font-size="50.00">)</text>
<text transform="translate(86.10,807.40) rotate(-90)" font-size="80.70">Transmitance(a.u.)</text>
</svg>
</body></html>
